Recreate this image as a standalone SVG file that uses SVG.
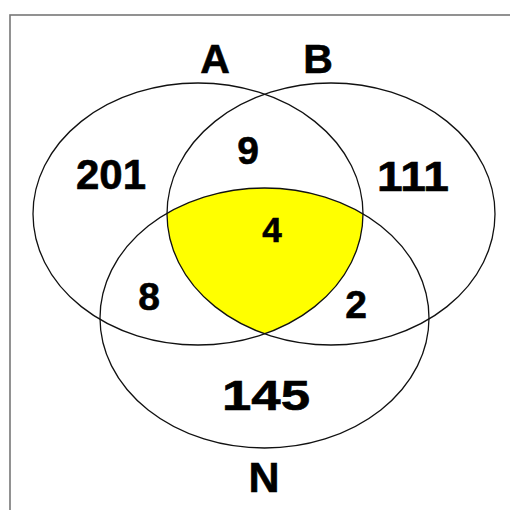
<svg xmlns="http://www.w3.org/2000/svg" width="510" height="510" viewBox="0 0 510 510">
  <style>
    .set { fill: none; stroke: #111; stroke-width: 1.3; }
    .lbl { font-family: "Liberation Sans", Arial, sans-serif; font-weight: bold; fill: #000; stroke: #000; stroke-width: 0.6; text-anchor: middle; }
  </style>
  <defs>
    <clipPath id="clipA"><ellipse cx="198" cy="214" rx="165" ry="131"/></clipPath>
    <clipPath id="clipB"><ellipse cx="331" cy="214" rx="164" ry="131"/></clipPath>
  </defs>
  <rect x="0" y="0" width="510" height="510" fill="#fff"/>
  <rect x="10" y="15" width="530" height="530" fill="none" stroke="#777" stroke-width="1.6"/>
  <g id="intersection">
    <g clip-path="url(#clipB)">
      <g clip-path="url(#clipA)">
        <ellipse cx="264.5" cy="318" rx="164.5" ry="130" fill="#ffff00"/>
      </g>
    </g>
  </g>
  <g id="setA">
    <ellipse class="set" cx="198" cy="214" rx="165" ry="131"/>
    <text class="lbl" x="215" y="73" font-size="41">A</text>
  </g>
  <g id="setB">
    <ellipse class="set" cx="331" cy="214" rx="164" ry="131"/>
    <text class="lbl" x="318" y="73" font-size="41">B</text>
  </g>
  <g id="setN">
    <ellipse class="set" cx="264.5" cy="318" rx="164.5" ry="130"/>
    <text class="lbl" x="264" y="492" font-size="43">N</text>
  </g>
  <g id="counts">
    <text class="lbl" x="111" y="189" font-size="42">201</text>
    <text class="lbl" x="248" y="164" font-size="39">9</text>
    <text class="lbl" x="413" y="191" font-size="42" textLength="72" lengthAdjust="spacingAndGlyphs">111</text>
    <text class="lbl" x="272" y="242" font-size="35">4</text>
    <text class="lbl" x="149" y="310" font-size="39">8</text>
    <text class="lbl" x="356" y="318" font-size="39">2</text>
    <text class="lbl" x="266" y="410" font-size="43" textLength="88" lengthAdjust="spacingAndGlyphs">145</text>
  </g>
</svg>
